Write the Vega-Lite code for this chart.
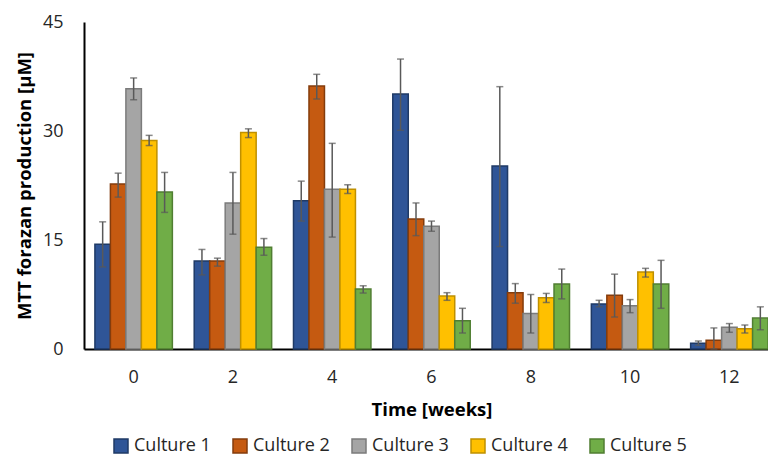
{
  "$schema": "https://vega.github.io/schema/vega-lite/v6.json",
  "width": 695,
  "height": 327,
  "autosize": {"type": "none"},
  "padding": {"left": 84, "top": 22, "right": 0, "bottom": 108},
  "background": "white",
  "config": {
    "font": "Open Sans",
    "view": {"stroke": null},
    "axis": {"grid": false, "ticks": false, "domainColor": "black", "domainWidth": 2, "labelColor": "#262626", "titleColor": "black", "labelFontSize": 18, "titleFontSize": 18.5, "titleFontWeight": "bold", "labelFont": "Open Sans", "titleFont": "Open Sans"},
    "legend": {"labelFont": "Open Sans", "labelFontSize": 18, "labelColor": "#262626"}
  },
  "data": {
    "values": [
      {"week": "0", "culture": "Culture 1", "value": 14.4, "lo": 11.3, "hi": 17.5},
      {"week": "0", "culture": "Culture 2", "value": 22.7, "lo": 20.9, "hi": 24.2},
      {"week": "0", "culture": "Culture 3", "value": 35.8, "lo": 34.3, "hi": 37.3},
      {"week": "0", "culture": "Culture 4", "value": 28.7, "lo": 28.0, "hi": 29.4},
      {"week": "0", "culture": "Culture 5", "value": 21.6, "lo": 18.8, "hi": 24.3},
      {"week": "2", "culture": "Culture 1", "value": 12.1, "lo": 10.2, "hi": 13.7},
      {"week": "2", "culture": "Culture 2", "value": 12.1, "lo": 11.4, "hi": 12.5},
      {"week": "2", "culture": "Culture 3", "value": 20.1, "lo": 15.8, "hi": 24.3},
      {"week": "2", "culture": "Culture 4", "value": 29.8, "lo": 29.1, "hi": 30.3},
      {"week": "2", "culture": "Culture 5", "value": 14.0, "lo": 12.9, "hi": 15.2},
      {"week": "4", "culture": "Culture 1", "value": 20.4, "lo": 17.6, "hi": 23.1},
      {"week": "4", "culture": "Culture 2", "value": 36.2, "lo": 34.4, "hi": 37.8},
      {"week": "4", "culture": "Culture 3", "value": 22.0, "lo": 15.4, "hi": 28.3},
      {"week": "4", "culture": "Culture 4", "value": 22.0, "lo": 21.4, "hi": 22.6},
      {"week": "4", "culture": "Culture 5", "value": 8.25, "lo": 7.7, "hi": 8.7},
      {"week": "6", "culture": "Culture 1", "value": 35.1, "lo": 30.1, "hi": 39.9},
      {"week": "6", "culture": "Culture 2", "value": 17.9, "lo": 15.6, "hi": 20.1},
      {"week": "6", "culture": "Culture 3", "value": 16.9, "lo": 16.2, "hi": 17.6},
      {"week": "6", "culture": "Culture 4", "value": 7.3, "lo": 6.7, "hi": 7.75},
      {"week": "6", "culture": "Culture 5", "value": 3.9, "lo": 2.2, "hi": 5.6},
      {"week": "8", "culture": "Culture 1", "value": 25.2, "lo": 14.1, "hi": 36.1},
      {"week": "8", "culture": "Culture 2", "value": 7.75, "lo": 6.3, "hi": 9.0},
      {"week": "8", "culture": "Culture 3", "value": 4.9, "lo": 2.2, "hi": 7.5},
      {"week": "8", "culture": "Culture 4", "value": 7.06, "lo": 6.4, "hi": 7.65},
      {"week": "8", "culture": "Culture 5", "value": 8.95, "lo": 6.9, "hi": 11.0},
      {"week": "10", "culture": "Culture 1", "value": 6.2, "lo": 5.8, "hi": 6.7},
      {"week": "10", "culture": "Culture 2", "value": 7.4, "lo": 4.4, "hi": 10.3},
      {"week": "10", "culture": "Culture 3", "value": 5.95, "lo": 5.0, "hi": 6.8},
      {"week": "10", "culture": "Culture 4", "value": 10.6, "lo": 9.9, "hi": 11.1},
      {"week": "10", "culture": "Culture 5", "value": 8.95, "lo": 5.6, "hi": 12.2},
      {"week": "12", "culture": "Culture 1", "value": 0.8, "lo": 0.5, "hi": 1.1},
      {"week": "12", "culture": "Culture 2", "value": 1.2, "lo": 0, "hi": 2.9},
      {"week": "12", "culture": "Culture 3", "value": 3.0, "lo": 2.3, "hi": 3.5},
      {"week": "12", "culture": "Culture 4", "value": 2.8, "lo": 2.2, "hi": 3.3},
      {"week": "12", "culture": "Culture 5", "value": 4.25, "lo": 2.65, "hi": 5.8}
    ]
  },
  "encoding": {
    "x": {
      "field": "week", "type": "ordinal", "sort": ["0", "2", "4", "6", "8", "10", "12"],
      "scale": {"paddingInner": 0.22, "paddingOuter": 0.11},
      "axis": {"title": "Time [weeks]", "labelAngle": 0, "labelPadding": 19, "titlePadding": 14}
    },
    "xOffset": {"field": "culture", "type": "nominal", "scale": {"paddingInner": 0, "paddingOuter": 0}}
  },
  "layer": [
    {
      "mark": {"type": "bar", "strokeWidth": 1.5},
      "encoding": {
        "y": {
          "field": "value", "type": "quantitative",
          "scale": {"domain": [0, 45], "nice": false},
          "axis": {"title": "MTT forazan production [µM]", "values": [0, 15, 30, 45], "labelPadding": 21, "titlePadding": 8}
        },
        "fill": {
          "field": "culture", "type": "nominal",
          "scale": {"domain": ["Culture 1", "Culture 2", "Culture 3", "Culture 4", "Culture 5"], "range": ["#2F5597", "#C55A11", "#A5A5A5", "#FFC000", "#70AD47"]},
          "legend": {"title": null, "orient": "none", "legendX": 28, "legendY": 415, "direction": "horizontal", "symbolType": "square", "symbolSize": 196, "symbolStrokeWidth": 1.5, "symbolOpacity": 1, "labelOffset": 4, "columnPadding": 19}
        },
        "stroke": {
          "field": "culture", "type": "nominal",
          "scale": {"domain": ["Culture 1", "Culture 2", "Culture 3", "Culture 4", "Culture 5"], "range": ["#1F3A66", "#843C0C", "#7B7B7B", "#BF9000", "#507E32"]},
          "legend": {"title": null, "orient": "none", "legendX": 28, "legendY": 415, "direction": "horizontal", "symbolType": "square", "symbolSize": 196, "symbolStrokeWidth": 1.5, "labelOffset": 4, "columnPadding": 19}
        }
      }
    },
    {
      "mark": {"type": "rule", "color": "#595959", "strokeWidth": 1.5},
      "encoding": {
        "y": {"field": "lo", "type": "quantitative"},
        "y2": {"field": "hi"}
      }
    },
    {
      "mark": {"type": "tick", "color": "#595959", "orient": "horizontal", "size": 7, "thickness": 1.5},
      "encoding": {"y": {"field": "lo", "type": "quantitative"}}
    },
    {
      "mark": {"type": "tick", "color": "#595959", "orient": "horizontal", "size": 7, "thickness": 1.5},
      "encoding": {"y": {"field": "hi", "type": "quantitative"}}
    }
  ]
}
